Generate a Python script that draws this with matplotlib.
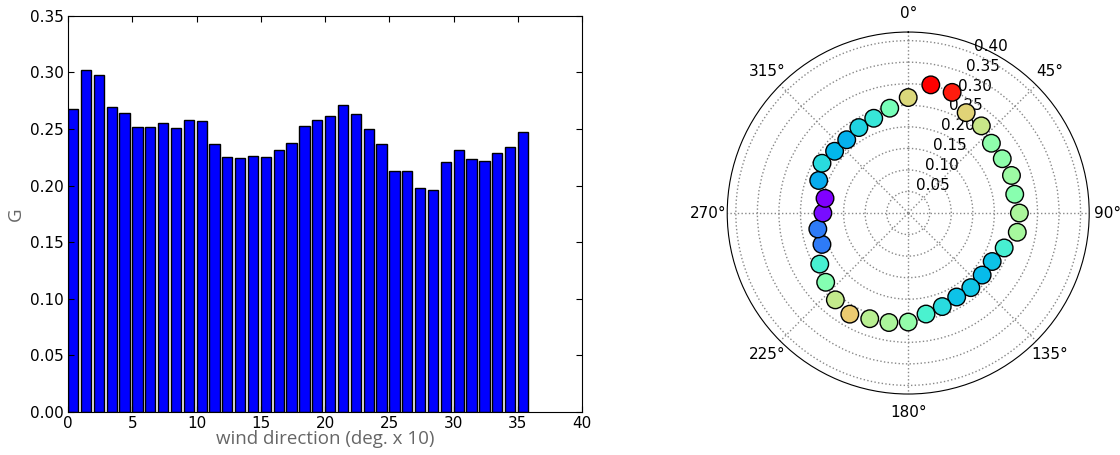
import matplotlib
matplotlib.use('Agg')
import matplotlib.pyplot as plt
import numpy as np

# G per 10 degree wind direction sector
sector = np.arange(36)
G = [0.268, 0.302, 0.298, 0.269, 0.264, 0.252, 0.252, 0.255, 0.251, 0.258,
     0.257, 0.237, 0.225, 0.224, 0.226, 0.225, 0.231, 0.238, 0.253, 0.258,
     0.261, 0.271, 0.263, 0.250, 0.237, 0.213, 0.213, 0.198, 0.196, 0.221,
     0.231, 0.223, 0.222, 0.229, 0.234, 0.247]
G = np.array(G)

fig = plt.figure(figsize=(11.2, 4.55), dpi=100)

ax1 = fig.add_axes([0.0607, 0.0945, 0.459, 0.871])
ax1.bar(sector, G, width=0.8, align='edge', color='blue', edgecolor='black', linewidth=1)
ax1.set_xlim(0, 40)
ax1.set_ylim(0, 0.35)
ax1.set_xticks(np.arange(0, 41, 5))
ax1.set_yticks(np.arange(0, 0.351, 0.05))
ax1.yaxis.set_major_formatter(matplotlib.ticker.FormatStrFormatter('%.2f'))
ax1.tick_params(direction='in', length=4, labelsize=11, top=True, right=True, pad=3)
ax1.set_xlabel('wind direction (deg. x 10)', fontsize=13.5, color='#666666',
               family='Open Sans', labelpad=-1)
ax1.set_ylabel('G', fontsize=13.5, color='#666666', family='Open Sans', labelpad=4)

ax2 = fig.add_axes([0.6493, 0.134, 0.3232, 0.7956], projection='polar')
ax2.set_theta_zero_location('N')
ax2.set_theta_direction(-1)
theta = np.deg2rad(sector * 10)
ax2.scatter(theta, G, c=G, cmap='rainbow', s=160, edgecolors='black',
            linewidths=1, zorder=3)
ax2.set_ylim(0, 0.42)
ax2.set_yticks(np.arange(0.05, 0.401, 0.05))
ax2.set_yticklabels(['%.2f' % v for v in np.arange(0.05, 0.401, 0.05)])
ax2.set_rlabel_position(22.5)
ax2.set_xticks(np.deg2rad(np.arange(0, 360, 45)))
ax2.set_xticklabels(['%d°' % d for d in range(0, 360, 45)])
ax2.tick_params(labelsize=11)
ax2.tick_params(axis='x', pad=3)
ax2.grid(True, color='#888888', linestyle=':', linewidth=1)

fig.savefig('out.png', dpi=100)
